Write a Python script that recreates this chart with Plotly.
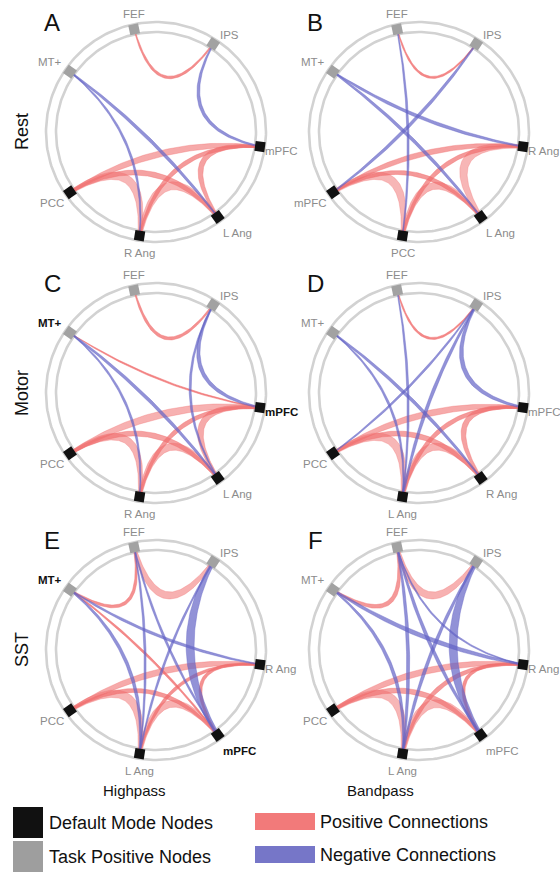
import numpy as np
import plotly.graph_objects as go

# ---------------- data ----------------
panel_letters = ["A", "B", "C", "D", "E", "F"]
row_labels = ["Rest", "Motor", "SST"]
col_labels = ["Highpass", "Bandpass"]

# slot angles (degrees, counter-clockwise from 3 o'clock)
slot_angles = [102, 57, -8, -54, -99, -145, 145]

# node placed in each slot, per panel
order_A = ["FEF", "IPS", "mPFC", "L Ang", "R Ang", "PCC", "MT+"]
order_B = ["FEF", "IPS", "R Ang", "L Ang", "PCC", "mPFC", "MT+"]
order_C = ["FEF", "IPS", "mPFC", "L Ang", "R Ang", "PCC", "MT+"]
order_D = ["FEF", "IPS", "mPFC", "R Ang", "L Ang", "PCC", "MT+"]
order_E = ["FEF", "IPS", "R Ang", "mPFC", "L Ang", "PCC", "MT+"]
order_F = ["FEF", "IPS", "R Ang", "mPFC", "L Ang", "PCC", "MT+"]

task_positive_nodes = ["FEF", "IPS", "MT+"]
bold_nodes_C = ["MT+", "mPFC"]
bold_nodes_E = ["MT+", "mPFC"]

# connections: (node, node, signed strength)
edges_A = [("FEF", "IPS", 2.5), ("IPS", "mPFC", -3), ("MT+", "L Ang", -3), ("MT+", "R Ang", -2),
           ("mPFC", "PCC", 6), ("mPFC", "R Ang", 4), ("mPFC", "L Ang", 5),
           ("PCC", "R Ang", 8), ("PCC", "L Ang", 5), ("R Ang", "L Ang", 8)]
edges_B = [("FEF", "IPS", 2), ("FEF", "PCC", -2), ("IPS", "mPFC", -3), ("MT+", "R Ang", -3),
           ("MT+", "L Ang", -3), ("R Ang", "mPFC", 5), ("R Ang", "PCC", 4), ("R Ang", "L Ang", 8),
           ("mPFC", "PCC", 8), ("mPFC", "L Ang", 4), ("PCC", "L Ang", 7)]
edges_C = [("FEF", "IPS", 3), ("IPS", "mPFC", -3.5), ("IPS", "L Ang", -2), ("MT+", "mPFC", 1.5),
           ("MT+", "L Ang", -3), ("MT+", "R Ang", -2), ("mPFC", "PCC", 7), ("mPFC", "R Ang", 4),
           ("mPFC", "L Ang", 6), ("PCC", "R Ang", 7), ("PCC", "L Ang", 5), ("R Ang", "L Ang", 7)]
edges_D = [("FEF", "IPS", 2), ("FEF", "L Ang", -2), ("IPS", "mPFC", -4), ("IPS", "PCC", -2),
           ("IPS", "L Ang", -3), ("MT+", "R Ang", -3), ("MT+", "L Ang", -2), ("mPFC", "PCC", 6),
           ("mPFC", "R Ang", 5), ("mPFC", "L Ang", 4), ("PCC", "L Ang", 8), ("PCC", "R Ang", 5),
           ("L Ang", "R Ang", 7)]
edges_E = [("FEF", "IPS", 7), ("FEF", "MT+", 3), ("FEF", "L Ang", -2), ("FEF", "mPFC", -2),
           ("IPS", "mPFC", -8), ("IPS", "L Ang", -2), ("MT+", "R Ang", -2.5), ("MT+", "mPFC", 2),
           ("MT+", "L Ang", -3), ("R Ang", "PCC", 6), ("R Ang", "mPFC", 3), ("R Ang", "L Ang", 3),
           ("PCC", "L Ang", 8), ("PCC", "mPFC", 4), ("L Ang", "mPFC", 7)]
edges_F = [("FEF", "IPS", 7), ("FEF", "MT+", 4), ("FEF", "L Ang", -3), ("FEF", "mPFC", -3),
           ("FEF", "R Ang", -1.5), ("IPS", "mPFC", -8), ("IPS", "L Ang", -3), ("MT+", "R Ang", -4),
           ("MT+", "L Ang", -3), ("R Ang", "PCC", 6), ("R Ang", "mPFC", 3), ("R Ang", "L Ang", 4),
           ("PCC", "L Ang", 8), ("PCC", "mPFC", 5), ("L Ang", "mPFC", 8)]

legend_nodes = ["Default Mode Nodes", "Task Positive Nodes"]
legend_edges = ["Positive Connections", "Negative Connections"]

# ---------------- layout / style ----------------
W, H = 560, 873
FONT = "Liberation Sans, Arial, Helvetica, sans-serif"
col_x = [156, 419]
row_y = [132, 393, 650]
R_OUT, R_IN, R_NODE = 110, 100, 105
BETA = 0.15
POS_RGB = (240, 110, 110)
NEG_RGB = (100, 100, 198)
LABEL_GRAY = "#8c8c8c"
# per slot: dx, dy, xanchor
slot_label_style = [(0, -15, "center"), (5, -9, "left"), (3, 4, "left"), (3, 16, "left"),
                    (0, 17, "center"), (-4, 11, "right"), (-6, -10, "right")]

panels = [
    (order_A, edges_A, []), (order_B, edges_B, []),
    (order_C, edges_C, bold_nodes_C), (order_D, edges_D, []),
    (order_E, edges_E, bold_nodes_E), (order_F, edges_F, []),
]

fig = go.Figure()
annotations = []
shapes = []


def ribbon(p0, p2, c, w, n=70):
    t = np.linspace(0, 1, n)[:, None]
    P = (1 - t) ** 2 * p0 + 2 * (1 - t) * t * c + t ** 2 * p2
    D = 2 * (1 - t) * (c - p0) + 2 * t * (p2 - c)
    nrm = np.hypot(D[:, 0], D[:, 1])
    nrm[nrm == 0] = 1
    N = np.stack([-D[:, 1], D[:, 0]], 1) / nrm[:, None]
    h = w / 2 * (0.4 + 0.6 * np.sin(np.pi * t[:, 0]))
    left = P + N * h[:, None]
    right = P - N * h[:, None]
    poly = np.vstack([left, right[::-1], left[:1]])
    return poly[:, 0], poly[:, 1]


theta_ring = np.linspace(0, 2 * np.pi, 241)

for i, (order, edges, bold) in enumerate(panels):
    cx, cy = col_x[i % 2], row_y[i // 2]
    center = np.array([cx, cy], float)
    # rings
    for r in (R_OUT, R_IN):
        fig.add_trace(go.Scatter(x=cx + r * np.cos(theta_ring), y=cy - r * np.sin(theta_ring),
                                 mode="lines", line=dict(color="#d2d2d2", width=2.6),
                                 hoverinfo="skip", showlegend=False))
    pos = {}
    for name, ang in zip(order, slot_angles):
        a = np.deg2rad(ang)
        pos[name] = np.array([cx + R_NODE * np.cos(a), cy - R_NODE * np.sin(a)])
    # edges: positive first, then negative
    for sign in (1, -1):
        for a_, b_, s in edges:
            if np.sign(s) != sign:
                continue
            p0, p2 = pos[a_], pos[b_]
            mid = (p0 + p2) / 2
            c = center + BETA * (mid - center)
            w = abs(s)
            xs, ys = ribbon(p0, p2, c, w)
            if s > 0:
                alpha = max(0.5, 0.92 - 0.055 * w)
                col = "rgba(%d,%d,%d,%.2f)" % (*POS_RGB, alpha)
            else:
                col = "rgba(%d,%d,%d,%.2f)" % (*NEG_RGB, 0.7)
            fig.add_trace(go.Scatter(x=xs, y=ys, mode="lines", fill="toself", fillcolor=col,
                                     line=dict(width=0.6, color=col), hoverinfo="skip",
                                     showlegend=False))
    # nodes
    nx = [pos[n][0] for n in order]
    ny = [pos[n][1] for n in order]
    ncol = ["#a2a2a2" if n in task_positive_nodes else "#111111" for n in order]
    nang = [(-ang) % 90 for ang in slot_angles]
    fig.add_trace(go.Scatter(x=nx, y=ny, mode="markers",
                             marker=dict(symbol="square", size=10, color=ncol, angle=nang,
                                         line=dict(width=0)),
                             hoverinfo="skip", showlegend=False))
    # node labels
    for k, n in enumerate(order):
        dx, dy, anc = slot_label_style[k]
        isb = n in bold
        annotations.append(dict(x=pos[n][0] + dx, y=pos[n][1] + dy, xref="x", yref="y",
                                text="<b>%s</b>" % n if isb else n, showarrow=False,
                                xanchor=anc, yanchor="middle",
                                font=dict(family=FONT, size=11.5,
                                          color="#111111" if isb else LABEL_GRAY)))
    # panel letter
    annotations.append(dict(x=cx - 104, y=cy - 110, xref="x", yref="y",
                            text=panel_letters[i], showarrow=False, xanchor="center",
                            yanchor="middle", font=dict(family=FONT, size=24, color="#111111")))

# row labels
for j, lab in enumerate(row_labels):
    annotations.append(dict(x=22, y=row_y[j], xref="x", yref="y", text=lab, showarrow=False,
                            textangle=-90, xanchor="center", yanchor="middle",
                            font=dict(family=FONT, size=18, color="#111111")))
# column labels
for j, lab in enumerate(col_labels):
    annotations.append(dict(x=[134, 380][j], y=790, xref="x", yref="y", text=lab,
                            showarrow=False, xanchor="center", yanchor="middle",
                            font=dict(family=FONT, size=15, color="#111111")))

# legend
node_cols = ["#111111", "#9e9e9e"]
for j, lab in enumerate(legend_nodes):
    y0 = [807, 841][j]
    shapes.append(dict(type="rect", xref="x", yref="y", x0=13, x1=43, y0=y0, y1=y0 + 31,
                       fillcolor=node_cols[j], line=dict(width=0)))
    annotations.append(dict(x=47, y=y0 + 15.5, xref="x", yref="y", text=lab, showarrow=False,
                            xanchor="left", yanchor="middle",
                            font=dict(family=FONT, size=18, color="#111111")))
edge_cols = ["rgb(242,122,122)", "rgb(118,118,200)"]
for j, lab in enumerate(legend_edges):
    y0 = [813, 846][j]
    shapes.append(dict(type="rect", xref="x", yref="y", x0=255, x1=315, y0=y0, y1=y0 + 17,
                       fillcolor=edge_cols[j], line=dict(width=0)))
    annotations.append(dict(x=318, y=y0 + 9, xref="x", yref="y", text=lab, showarrow=False,
                            xanchor="left", yanchor="middle",
                            font=dict(family=FONT, size=18, color="#111111")))

fig.update_layout(
    width=W, height=H, autosize=False,
    margin=dict(l=0, r=0, t=0, b=0),
    paper_bgcolor="white", plot_bgcolor="white",
    xaxis=dict(range=[0, W], visible=False, fixedrange=True),
    yaxis=dict(range=[H, 0], visible=False, fixedrange=True),
    annotations=annotations, shapes=shapes, showlegend=False,
)
fig.write_html("out.html", config={"displayModeBar": False},
               post_script="document.body.style.margin='0';document.body.style.padding='0';"
                           "document.body.style.overflow='hidden';")
